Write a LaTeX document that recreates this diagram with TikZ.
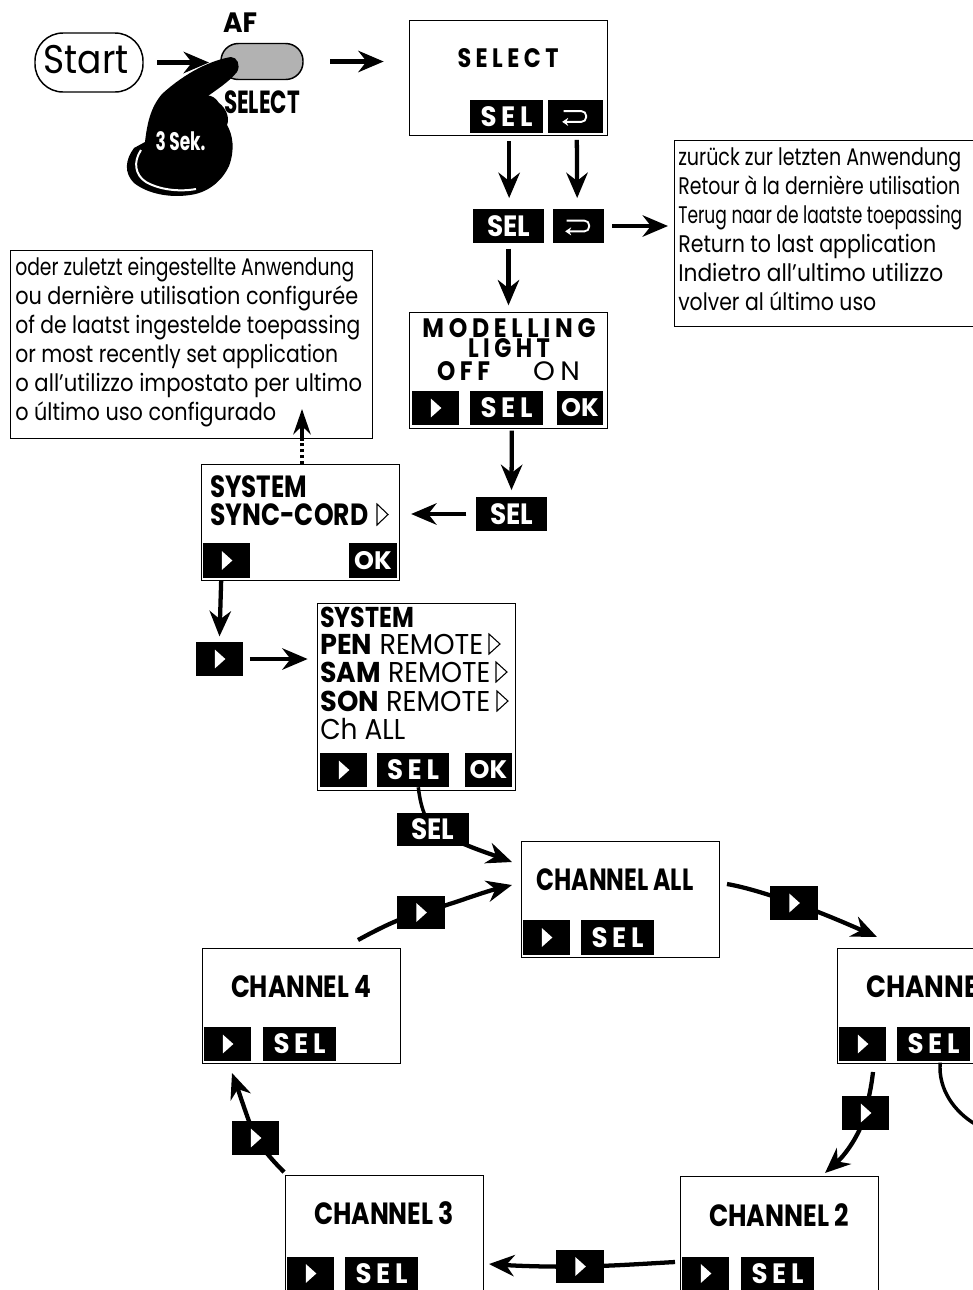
\documentclass[tikz,border=0pt]{standalone}
\usepackage{fontspec}
\usepackage{graphicx}
\setmainfont{Poppins}
\usetikzlibrary{arrows.meta,backgrounds}
\def\px{0.75pt}
\newdimen\pxu \pxu=0.75pt
\newcommand\fsz[1]{\fontsize{#1}{#1}\selectfont}
% set a text to a given width (in pixels of the drawing grid), keeping its height
\newcommand\fw[2]{\resizebox{#1\pxu}{\height}{#2}}
\begin{document}
\begin{tikzpicture}[x=0.75pt,y=-0.75pt,
  screen/.style={draw,line width=1.1pt,anchor=north west,inner sep=0pt,minimum width={198*\px}},
  scrA/.style={screen,minimum height={116*\px}},
  blk/.style={fill=black,text=white,inner sep=0pt,minimum height={34*\px}},
  selbtn/.style={blk,minimum width={73*\px},font=\bfseries\fsz{21}\addfontfeature{LetterSpace=18}},
  selc/.style={blk,minimum width={71*\px},font=\bfseries\fsz{22}},
  okbtn/.style={blk,minimum width={47*\px},font=\bfseries\fsz{19}},
  playbtn/.style={blk,minimum width={47*\px},
    path picture={\fill[white]
      ([xshift=-3.4pt,yshift=7pt]path picture bounding box.center) --
      ([xshift=4.4pt]path picture bounding box.center) --
      ([xshift=-3.4pt,yshift=-7pt]path picture bounding box.center) -- cycle;}},
  retbtn/.style={blk,
    path picture={\draw[white,line width=1.4pt,rounded corners=3.5pt,-{Stealth[length=4.5pt,width=6pt]}]
      ([xshift=-9pt,yshift=4pt]path picture bounding box.center) --
      ([xshift=8pt,yshift=4pt]path picture bounding box.center) --
      ([xshift=8pt,yshift=-4pt]path picture bounding box.center) --
      ([xshift=-10pt,yshift=-4pt]path picture bounding box.center);}},
  lbl/.style={anchor=base west,inner sep=0pt},
  clbl/.style={anchor=base,inner sep=0pt},
  chtxt/.style={clbl,font=\bfseries\fsz{23}},
  spaced/.style={clbl,font=\bfseries\fsz{20}\addfontfeature{LetterSpace=20}},
  notetxt/.style={lbl,font=\fsz{18}},
  scrline/.style={lbl,font=\fsz{21.5}},
  opentri/.style={line width=0.8pt,line join=miter},
  arr/.style={line width=3.2pt,-{Stealth[length=19pt,width=16pt]}},
  curve/.style={line width=2.6pt}
]
\useasboundingbox (0,0) rectangle (972,1290);

% ---- start, AF button and hand
\node[draw,line width=1.1pt,rounded corners=21pt,minimum width={108*\px},minimum height={59*\px},
      inner sep=0pt] (start) at (89,62.5) {};
\node[clbl,font=\fsz{30}] (starttxt) at (86,73) {\fw{85}{Start}};
\node[draw,fill=black!30,line width=1.1pt,rounded corners=13pt,minimum width={82*\px},
      minimum height={36*\px},inner sep=0pt] (afbtn) at (262,61.5) {};
\node[clbl,font=\bfseries\fsz{21}] (aflbl) at (240,32) {\fw{34}{AF}};
\fill (231,57) .. controls (212,60) and (186,72) .. (162,94)
  .. controls (150,108) and (147,125) .. (145,142) -- (134,148)
  .. controls (125,160) and (124,173) .. (134,183)
  .. controls (148,194) and (170,198) .. (190,195)
  .. controls (206,193) and (221,183) .. (229,166)
  .. controls (235,150) and (233,135) .. (227,125)
  .. controls (230,118) and (226,108) .. (219,103)
  .. controls (216,98) and (211,95) .. (208,96)
  .. controls (216,90) and (229,82) .. (237,72)
  .. controls (241,65) and (237,57) .. (231,57) -- cycle;
\draw[white,line width=1.5pt] (141,150) .. controls (133,162) and (135,175) .. (146,182)
  .. controls (160,190) and (180,192) .. (196,189);
\node[clbl,font=\bfseries\fsz{24}] (sellbl) at (262,113) {\fw{76}{SELECT}};
\node[clbl,text=white,font=\bfseries\fsz{19}] (sek) at (180.5,150) {\fw{50}{3 Sek.}};

% ---- SELECT screen
\node[screen,minimum height={115*\px}] (selscr) at (409,20) {};
\node[spaced] (seltxt) at (508,67) {\fw{101}{SELECT}};
\node[selbtn,minimum height={33*\px}] (s1sel) at (506.5,116.5) {\fw{52}{SEL}};
\node[retbtn,minimum width={55*\px},minimum height={33*\px}] (s1ret) at (575.5,116.5) {};

\node[selc] (sel2) at (508.5,226) {\fw{43}{SEL}};
\node[retbtn,minimum width={51*\px}] (ret2) at (578.5,226) {};

% ---- note: return to last application
\node[draw,line width=1.1pt,anchor=north west,inner sep=0pt,minimum width={310*\px},
      minimum height={186*\px}] (retnote) at (674,140) {};
\foreach \w/\t [count=\i] in {283/zurück zur letzten Anwendung,282/Retour à la dernière utilisation,
    284/Terug naar de laatste toepassing,258/Return to last application,
    265/Indietro all’ultimo utilizzo,198/volver al último uso}
  \node[notetxt] (retline\i) at (678,{165+29*(\i-1)}) {\fw{\w}{\t}};

% ---- modelling light screen
\node[scrA] (modscr) at (409,312) {};
\node[spaced] (modtxt) at (509,337) {\fw{173}{MODELLING}};
\node[spaced] (lighttxt) at (509,357) {\fw{82}{LIGHT}};
\node[spaced] (offtxt) at (463.5,380) {\fw{53}{OFF}};
\node[clbl,font=\fsz{20}\addfontfeature{LetterSpace=20}] (ontxt) at (556.5,380) {\fw{47}{ON}};
\node[playbtn] (m3play) at (435.5,408) {};
\node[selbtn] (m3sel) at (506.5,408) {\fw{52}{SEL}};
\node[okbtn,minimum width={46*\px}] (m3ok) at (580,408) {OK};

\node[selc] (sel4) at (511.5,514) {\fw{43}{SEL}};

% ---- note: most recently set application
\node[draw,line width=1.1pt,anchor=north west,inner sep=0pt,minimum width={362*\px},
      minimum height={188*\px}] (setnote) at (10,250) {};
\foreach \w/\t [count=\i] in {339/oder zuletzt eingestellte Anwendung,343/ou dernière utilisation configurée,
    345/of de laatst ingestelde toepassing,323/or most recently set application,
    347/o all’utilizzo impostato per ultimo,261/o último uso configurado}
  \node[notetxt] (setline\i) at (15,{275+29*(\i-1)}) {\fw{\w}{\t}};

% ---- system / sync-cord screen
\node[scrA] (syncscr) at (201,464) {};
\node[lbl,font=\bfseries\fsz{23}] (synct1) at (210,497) {\fw{97}{SYSTEM}};
\node[lbl,font=\bfseries\fsz{23}] (synct2) at (210,525) {\fw{158}{SYNC-CORD}};
\draw[opentri] (377,504) -- (388,514.5) -- (377,525) -- cycle;
\node[playbtn,minimum height={35*\px}] (syplay) at (226.5,560.5) {};
\node[okbtn,minimum width={48*\px},minimum height={35*\px}] (syok) at (373,560.5) {OK};

\node[playbtn] (pl5) at (219.5,659) {};

% ---- system remote screen
\node[screen,minimum height={187*\px}] (sysscr) at (317,603) {};
\node[scrline,font=\bfseries\fsz{21.5}] (sys1) at (320,627) {\fw{94}{SYSTEM}};
\node[scrline] (sys2) at (320,654) {\fw{163}{\textbf{PEN} REMOTE}};
\node[scrline] (sys3) at (320,682) {\fw{170}{\textbf{SAM} REMOTE}};
\node[scrline] (sys4) at (320,711) {\fw{170}{\textbf{SON} REMOTE}};
\node[scrline] (sys5) at (320,739) {\fw{85}{Ch ALL}};
\draw[opentri] (489,634) -- (500,644) -- (489,654) -- cycle;
\draw[opentri] (496,662) -- (507,672) -- (496,682) -- cycle;
\draw[opentri] (497,691) -- (508,701) -- (497,711) -- cycle;
\node[playbtn] (syspl) at (343.5,770) {};
\node[selbtn,minimum width={72*\px}] (syssel) at (413,770) {\fw{52}{SEL}};
\node[okbtn] (sysok) at (488.5,770) {OK};

\node[selc,minimum width={72*\px},minimum height={33*\px}] (sel6) at (433,829.5) {\fw{43}{SEL}};

% ---- channel screens
\node[scrA] (chall) at (521,841) {};
\node[chtxt] (challt) at (615,890) {\fw{157}{CHANNEL ALL}};
\node[playbtn,minimum height={35*\px}] (challpl) at (546.5,937.5) {};
\node[selbtn,minimum height={35*\px}] (challsel) at (617.5,937.5) {\fw{52}{SEL}};

\node[scrA,minimum height={115*\px}] (ch4) at (202,948) {};
\node[chtxt] (ch4t) at (301,997) {\fw{140}{CHANNEL 4}};
\node[playbtn] (ch4pl) at (227.5,1044) {};
\node[selbtn] (ch4sel) at (299.5,1044) {\fw{52}{SEL}};

\node[scrA,minimum height={115*\px}] (ch1) at (837,948) {};
\node[chtxt,anchor=base west] (ch1t) at (866,997) {\fw{140}{CHANNEL 1}};
\node[playbtn] (ch1pl) at (862.5,1044) {};
\node[selbtn] (ch1sel) at (933.5,1044) {\fw{52}{SEL}};

\node[scrA,minimum height={115*\px}] (ch2) at (680,1176) {};
\node[chtxt] (ch2t) at (779,1226) {\fw{140}{CHANNEL 2}};
\node[playbtn] (ch2pl) at (705.5,1273.5) {};
\node[selbtn] (ch2sel) at (777.5,1273.5) {\fw{52}{SEL}};

\node[scrA,minimum height={115*\px}] (ch3) at (285,1175) {};
\node[chtxt] (ch3t) at (384,1224) {\fw{140}{CHANNEL 3}};
\node[playbtn] (ch3pl) at (310.5,1273.5) {};
\node[selbtn] (ch3sel) at (381.5,1273.5) {\fw{52}{SEL}};

% ---- step keys on the channel loop
\node[playbtn,minimum width={48*\px},minimum height={33*\px}] (k41) at (421,912.5) {};
\node[playbtn,minimum width={48*\px}] (ka1) at (794,903) {};
\node[playbtn] (k12) at (865.5,1113) {};
\node[playbtn,minimum width={48*\px},minimum height={33*\px}] (k23) at (580,1266.5) {};
\node[playbtn] (k34) at (255.5,1138) {};

\coordinate (ch1out) at (975,1124);
\coordinate (challin1) at (512,862);
\coordinate (challin2) at (512,885);
\coordinate (ch1in) at (877,937);
\coordinate (ch2in) at (825,1173);
\coordinate (ch3in) at (489,1264);
\coordinate (ch4in) at (232,1073);
\coordinate (setnotein) at (302,409);

% ---- connectors
\begin{scope}[on background layer]
\draw[arr] ([xshift=10pt]start.east) -- (209,62.5);
\draw[arr] ([xshift=20pt]afbtn.east) -- ([xshift=-19pt]selscr.west |- afbtn.east);
\draw[arr] ([xshift=2pt,yshift=-6pt]s1sel.south) -- ([xshift=0.5pt,yshift=8pt]sel2.north);
\draw[arr] ([xshift=1pt,yshift=-5pt]s1ret.south) -- ([xshift=-1pt,yshift=8pt]ret2.north);
\draw[arr] ([xshift=6pt]ret2.east) -- ([xshift=-4.5pt]retnote.west |- ret2.east);
\draw[arr] ([yshift=-4pt]sel2.south) -- ([yshift=5pt]sel2.south |- modscr.north);
\draw[arr] ([xshift=4pt,yshift=-4pt]m3sel.south) -- ([yshift=5pt]sel4.north);
\draw[arr] ([xshift=-7pt]sel4.west) -- ([xshift=8pt]syncscr.east |- sel4.west);
\draw[line width=2.4pt,dotted] (syncscr.north -| setnotein) -- (302,437);
\draw[line width=2.4pt,-{Stealth[length=19pt,width=13pt]}] (302,438) -- (setnotein);
\draw[arr] ([xshift=-4pt,yshift=-2pt]syplay.south) -- ([yshift=4pt]pl5.north);
\draw[arr] ([xshift=5pt]pl5.east) -- ([xshift=-7pt]sysscr.west |- pl5.east);
\draw[curve] ([xshift=4pt]syssel.south) .. controls (421,812) and (428,822) .. (sel6.center);
\draw[arr] (sel6.center) .. controls (465,846) and (485,852) .. (challin1);
\draw[arr] (358,940) .. controls (380,928) and (400,918) .. (k41.center)
  .. controls (450,905) and (480,893) .. (challin2);
\draw[arr] (727,884) .. controls (750,888) and (775,897) .. (ka1.center)
  .. controls (820,912) and (850,925) .. (ch1in);
\draw[curve] ([xshift=5pt,yshift=-1pt]ch1sel.south) .. controls (938,1090) and (955,1112) .. (ch1out);
\draw[arr] (873,1072) .. controls (871,1090) and (868,1100) .. (k12.center)
  .. controls (860,1135) and (845,1155) .. (ch2in);
\draw[arr] (675,1262) .. controls (640,1264) and (610,1266) .. (k23.center)
  .. controls (550,1267) and (520,1266) .. (ch3in);
\draw[arr] (284,1172) .. controls (272,1160) and (262,1148) .. (k34.center)
  .. controls (248,1120) and (240,1095) .. (ch4in);
\end{scope}
\end{tikzpicture}
\end{document}
